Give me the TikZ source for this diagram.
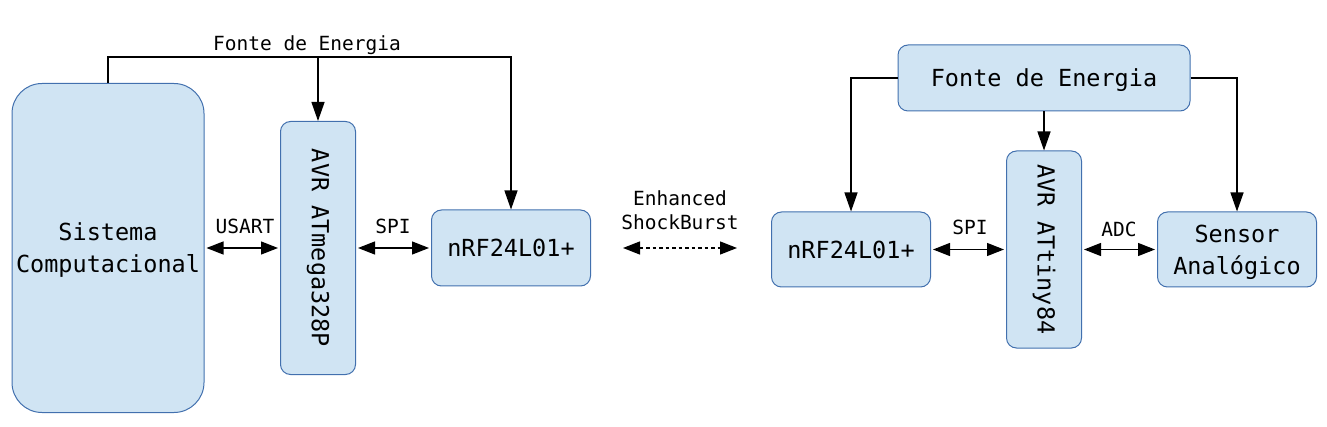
\documentclass[tikz,border=0pt]{standalone}
\usepackage{fontspec}
\setmonofont{DejaVu Sans Mono}
\usetikzlibrary{arrows.meta}
\definecolor{boxfill}{RGB}{208,228,243}
\definecolor{boxline}{RGB}{66,112,174}
\newcommand\bigfnt{\ttfamily\fontsize{23.5}{32}\selectfont}
\newcommand\smallfnt{\ttfamily\fontsize{19.5}{24.5}\selectfont}
\begin{document}
\begin{tikzpicture}[x=1pt,y=-1pt,
  box/.style={draw=boxline, fill=boxfill, line width=1pt, rounded corners=10pt,
    inner sep=0pt, align=center, font=\bigfnt, text depth=0pt},
  vlabel/.style={font=\bigfnt, rotate=-90, inner sep=0pt},
  lbl/.style={font=\smallfnt, inner sep=0pt, align=center},
  conn/.style={line width=1.3pt, -{Triangle[length=19pt,width=13pt]}},
  dbl/.style={line width=1.3pt, {Triangle[length=17pt,width=13pt]}-{Triangle[length=17pt,width=13pt]},
    shorten <=2pt, shorten >=2pt},
  dotline/.style={dash pattern=on 3.5pt off 3pt}
]
\useasboundingbox (0,0) rectangle (1327,427);

% left side
\node[box, rounded corners=30pt, minimum width=192pt, minimum height=329pt] (sc) at (108,248) {Sistema\\Computacional};
\node[box, minimum width=75pt, minimum height=253pt] (atm) at (318,248) {};
\node[vlabel] (atmtxt) at (atm.center) {AVR ATmega328P};
\node[box, minimum width=159pt, minimum height=76pt] (nrfL) at (511,248) {nRF24L01+};

\coordinate (topR) at (511,57);
\draw[conn] (sc.north) |- (topR) -- (nrfL.north);
\draw[conn] (atm.north |- topR) -- (atm.north);
\node[lbl] (fonteL) at (307,45) {Fonte de Energia};

\draw[dbl] (sc.east) -- (atm.west);
\node[lbl] (usart) at (245,226) {USART};
\draw[dbl] (atm.east) -- (nrfL.west);
\node[lbl] (spiL) at (393,226) {SPI};

% wireless link
\coordinate (esbL) at (623,248);
\coordinate (esbR) at (737,248);
\draw[dbl, dotline, shorten <=0pt, shorten >=0pt] (esbL) -- (esbR);
\node[lbl] (esb) at (680,210) {Enhanced\\ShockBurst};

% right side
\node[box, minimum width=292pt, minimum height=66pt] (fonteR) at (1044,78) {Fonte de Energia};
\node[box, minimum width=159pt, minimum height=75pt] (nrfR) at (851,249.5) {nRF24L01+};
\node[box, minimum width=75pt, minimum height=197pt] (tiny) at (1044,249.5) {};
\node[vlabel] (tinytxt) at (tiny.center) {AVR ATtiny84};
\node[box, minimum width=159pt, minimum height=75pt] (sens) at (1237,249.5) {Sensor\\Analógico};

\draw[conn] (fonteR.west) -| (nrfR.north);
\draw[conn] (fonteR.south) -- (tiny.north);
\draw[conn] (fonteR.east) -| (sens.north);

\draw[dbl] (nrfR.east) -- (tiny.west);
\node[lbl] (spiR) at (970,227) {SPI};
\draw[dbl] (tiny.east) -- (sens.west);
\node[lbl] (adc) at (1119,229) {ADC};
\end{tikzpicture}
\end{document}
